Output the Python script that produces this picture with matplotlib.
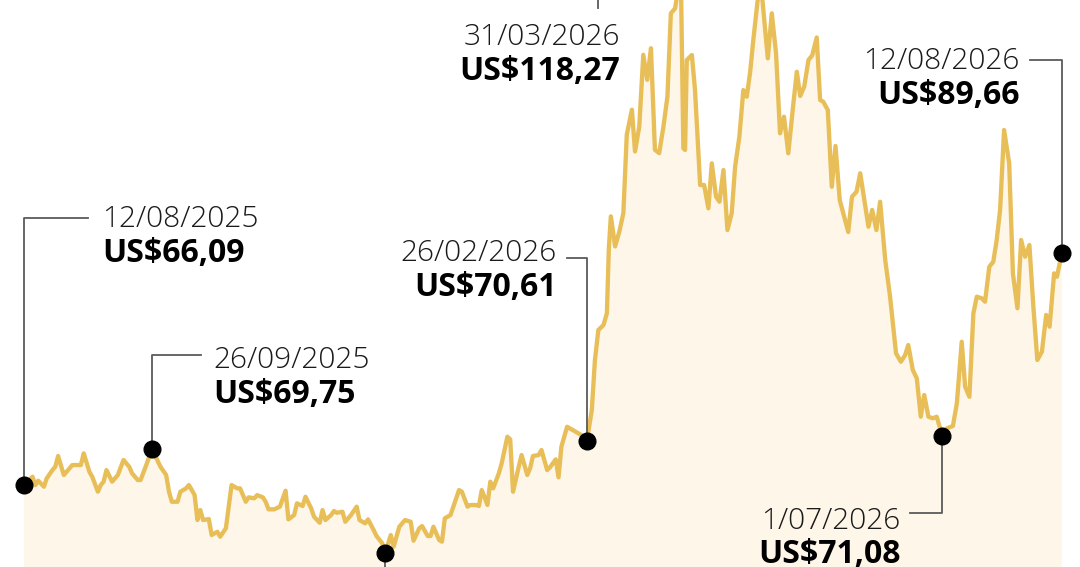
import matplotlib
matplotlib.use('Agg')
import matplotlib.pyplot as plt
import numpy as np

# Days since 12/08/2025 and closing price (US$)
days = [0, 3, 4, 5, 7, 8, 10, 11, 12, 14, 17, 20, 21, 23, 24, 26, 27, 28, 29, 31,
        33, 35, 37, 38, 40, 41, 43, 45, 48, 50, 51, 52, 54, 55, 57, 58, 60, 61, 62, 63,
        65, 66, 68, 69, 71, 73, 75, 76, 78, 79, 81, 82, 84, 85, 86, 88, 90, 92, 93, 95,
        96, 98, 99, 101, 102, 104, 105, 106, 108, 109, 110, 112, 113, 115, 117, 118, 120, 121, 123, 124,
        126, 127, 129, 130, 132, 134, 136, 137, 139, 140, 142, 143, 144, 146, 147, 148, 150, 151, 153, 154,
        156, 157, 159, 160, 161, 163, 164, 165, 167, 168, 170, 171, 172, 174, 175, 177, 178, 179, 181, 182,
        184, 185, 187, 188, 189, 191, 193, 196, 198, 199.7, 200.8, 202.0, 203.8, 205.0, 205.7, 206.4, 207.9, 209.4, 210.8, 212.0,
        213.8, 214.9, 216.4, 217.8, 219.2, 220.5, 221.9, 223.4, 224.9, 226.3, 227.5, 229.0, 231.0, 231.9, 232.5, 233.1, 234.9, 236.0, 237.8, 239.2,
        240.7, 241.9, 243.4, 244.6, 246.0, 247.4, 248.9, 250.1, 251.6, 253.0, 254.2, 255.4, 256.5, 258.5, 259.7, 261.6, 263.0, 264.5, 265.9, 267.3,
        268.8, 270.6, 271.8, 273.0, 274.4, 275.9, 277.2, 278.8, 280.0, 281.1, 282.7, 284.1, 285.4, 286.9, 289.9, 291.2, 292.8, 294.1, 297.0, 298.3,
        299.8, 301.1, 302.9, 304.6, 306.7, 308.4, 309.9, 311.0, 312.6, 314.0, 315.4, 316.6, 318.1, 319.6, 321.0, 323.0, 324.6, 326.7, 328.1, 329.8,
        331.0, 332.5, 333.9, 335.1, 336.9, 338.0, 339.5, 340.9, 342.1, 343.3, 344.7, 346.5, 347.8, 349.4, 350.7, 352.1, 353.6, 355.0, 356.4, 358.0,
        359.5, 360.7, 362.3, 363.3, 365.0]

prices = [66.09, 66.93, 66.09, 66.53, 65.92, 66.77, 67.61, 67.95, 69.04, 67.11, 68.12, 68.12, 69.31, 67.44, 66.93, 65.41, 66.09, 66.43, 67.61, 66.43,
          67.11, 68.63, 67.95, 67.28, 66.60, 66.60, 68.12, 69.75, 67.95, 67.11, 65.41, 64.39, 64.39, 65.41, 65.75, 66.09, 65.07, 62.53, 63.55, 62.53,
          62.63, 61.01, 61.34, 60.84, 61.69, 66.09, 65.75, 65.75, 64.39, 64.84, 64.74, 65.07, 64.84, 64.39, 63.62, 63.62, 63.89, 65.51, 62.60, 63.04,
          64.23, 63.96, 64.90, 63.72, 62.87, 62.26, 63.55, 62.53, 63.04, 63.45, 63.27, 63.38, 62.36, 63.04, 63.89, 62.53, 62.20, 62.60, 61.50, 60.90,
          60.17, 59.15, 61.01, 59.82, 61.85, 62.53, 62.36, 60.43, 61.69, 61.92, 60.91, 60.91, 61.85, 60.50, 60.33, 62.71, 63.04, 63.89, 65.58, 65.41,
          63.89, 64.06, 64.06, 63.96, 65.58, 64.06, 66.43, 65.75, 67.28, 68.29, 71.00, 70.73, 65.41, 67.95, 69.14, 67.11, 67.79, 69.04, 69.14, 69.65,
          67.61, 67.89, 68.70, 66.87, 69.98, 72.01, 71.68, 71.17, 70.61, 73.71, 78.79, 81.84, 82.35, 83.54, 90.18, 93.39, 90.34, 91.86, 93.73, 101.69,
          104.23, 99.99, 102.53, 109.81, 107.27, 110.48, 100.16, 99.82, 102.53, 105.58, 114.02, 114.53, 118.27, 100.31, 100.14, 109.28, 109.79, 106.23, 96.58, 96.58,
          94.21, 98.78, 95.39, 94.88, 98.10, 92.00, 93.70, 98.44, 101.49, 106.23, 105.55, 108.09, 111.31, 116.60, 115.40, 109.45, 114.03, 109.96, 101.83, 103.52,
          99.80, 104.88, 108.09, 105.62, 106.57, 109.28, 109.74, 111.57, 105.22, 105.04, 104.20, 96.40, 100.54, 95.05, 91.80, 95.39, 95.90, 97.77, 92.34, 94.04,
          92.00, 94.88, 88.96, 85.23, 79.47, 78.62, 79.30, 80.32, 77.78, 76.93, 73.03, 75.24, 73.03, 72.87, 73.03, 71.08, 71.85, 72.09, 74.42, 80.65,
          76.08, 75.06, 83.54, 85.23, 85.06, 84.72, 88.27, 88.78, 90.99, 94.04, 102.17, 98.78, 87.60, 84.05, 90.99, 89.29, 90.48, 84.21, 78.79, 79.64,
          83.37, 82.18, 87.60, 87.26, 89.66]

# highlighted points: day, date label, value label
marks_day = [0, 45, 127, 198, 231.0, 323.0, 365.0]
marks_date = ['12/08/2025', '26/09/2025', '', '26/02/2026', '31/03/2026', '1/07/2026', '12/08/2026']
marks_value = ['US$66,09', 'US$69,75', '', 'US$70,61', 'US$118,27', 'US$71,08', 'US$89,66']

# connector paths (pixel offsets from the point) and text anchors
paths = [
  [(0, 267), (64, 267)],
  [(0, 94), (49, 94)],
  [(0, -60)],
  [(0, 183), (-20, 183)],
  [(0, 34), (-83, 34), (-83, -36)],
  [(0, -77), (-32, -77)],
  [(0, 193), (-32, 193)],
]
text_at = [(78, 266, 'left'), (61, 89, 'left'), None, (-30, 187, 'right'),
           (-61, -66, 'right'), (-42, -85, 'right'), (-42, 192, 'right')]

LINE = '#E8BE58'
FILL = '#FEF6E8'
FONT = 'Open Sans'

fig = plt.figure(figsize=(10.8, 5.67), dpi=100)
ax = fig.add_axes([0, 0, 1, 1])
ax.set_xlim(-8.44, 371.4)
ax.set_ylim(57.76, 115.38)
ax.axis('off')

ax.fill_between(days, prices, 0, color=FILL, lw=0, zorder=1)
ax.plot(days, prices, color=LINE, lw=3.1, zorder=2)

inv = ax.transData.inverted()
for i, d in enumerate(marks_day):
  p = prices[days.index(d)]
  px, py = ax.transData.transform((d, p))
  pts = [(px, py)] + [(px + dx, py + dy) for dx, dy in paths[i]]
  pts = inv.transform(pts)
  ax.plot(pts[:, 0], pts[:, 1], color='#5a5a5a', lw=1.3, zorder=3, clip_on=False)
  ax.plot(d, p, 'o', color='black', ms=12, zorder=4)
  if text_at[i] is None:
    continue
  tx, ty, ha = text_at[i]
  ax.annotate(marks_date[i], (px + tx, py + ty), xycoords='figure pixels',
              ha=ha, va='center', fontsize=21.5, fontweight='light',
              family=FONT, color='#1a1a1a')
  ax.annotate(marks_value[i], (px + tx, py + ty - 34), xycoords='figure pixels',
              ha=ha, va='center', fontsize=23, fontweight='bold',
              family=FONT, color='black')

plt.savefig('out.png', dpi=100)
